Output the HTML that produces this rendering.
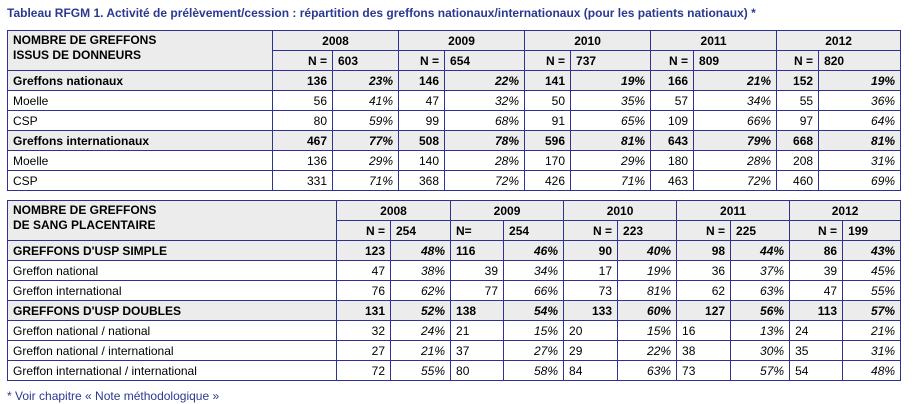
<!DOCTYPE html>
<html><head><meta charset="utf-8"><style>
body{margin:0;width:914px;height:404px;background:#fff;font-family:"Liberation Sans",Arial,sans-serif;font-size:12px;color:#000;position:relative;overflow:hidden}
.title{position:absolute;left:7px;top:6px;font-weight:bold;color:#2b3990;font-size:12px}
table{position:absolute;left:7px;border-collapse:collapse;table-layout:fixed;width:893px}
td{border:1px solid #2e3192;height:19px;padding:0 5px;line-height:18px;white-space:nowrap;overflow:hidden}
.g td{background:#ececec;font-weight:bold}
.h td{background:#ececec;font-weight:bold}
.c{text-align:center}.r{text-align:right}.l{text-align:left}
.p{text-align:right;font-style:italic}
.lbl{vertical-align:top;padding-top:2px;line-height:15px}
.foot{position:absolute;left:7px;top:389px;color:#2b3990;font-size:12px}
</style></head><body>
<div class="title">Tableau RFGM 1. Activité de prélèvement/cession : répartition des greffons nationaux/internationaux (pour les patients nationaux) *</div>

<table style="top:30px">
<colgroup><col style="width:265px"><col style="width:60px"><col style="width:66px"><col style="width:46px"><col style="width:80px"><col style="width:46px"><col style="width:80px"><col style="width:43px"><col style="width:83px"><col style="width:42px"><col style="width:82px"></colgroup>
<tr class="h"><td rowspan="2" class="lbl">NOMBRE DE GREFFONS<br>ISSUS DE DONNEURS</td><td colspan="2" class="c">2008</td><td colspan="2" class="c">2009</td><td colspan="2" class="c">2010</td><td colspan="2" class="c">2011</td><td colspan="2" class="c">2012</td></tr>
<tr class="h"><td class="r">N =</td><td>603</td><td class="r">N =</td><td>654</td><td class="r">N =</td><td>737</td><td class="r">N =</td><td>809</td><td class="r">N =</td><td>820</td></tr>
<tr class="g"><td>Greffons nationaux</td><td class="r">136</td><td class="p">23%</td><td class="r">146</td><td class="p">22%</td><td class="r">141</td><td class="p">19%</td><td class="r">166</td><td class="p">21%</td><td class="r">152</td><td class="p">19%</td></tr>
<tr><td>Moelle</td><td class="r">56</td><td class="p">41%</td><td class="r">47</td><td class="p">32%</td><td class="r">50</td><td class="p">35%</td><td class="r">57</td><td class="p">34%</td><td class="r">55</td><td class="p">36%</td></tr>
<tr><td>CSP</td><td class="r">80</td><td class="p">59%</td><td class="r">99</td><td class="p">68%</td><td class="r">91</td><td class="p">65%</td><td class="r">109</td><td class="p">66%</td><td class="r">97</td><td class="p">64%</td></tr>
<tr class="g"><td>Greffons internationaux</td><td class="r">467</td><td class="p">77%</td><td class="r">508</td><td class="p">78%</td><td class="r">596</td><td class="p">81%</td><td class="r">643</td><td class="p">79%</td><td class="r">668</td><td class="p">81%</td></tr>
<tr><td>Moelle</td><td class="r">136</td><td class="p">29%</td><td class="r">140</td><td class="p">28%</td><td class="r">170</td><td class="p">29%</td><td class="r">180</td><td class="p">28%</td><td class="r">208</td><td class="p">31%</td></tr>
<tr><td>CSP</td><td class="r">331</td><td class="p">71%</td><td class="r">368</td><td class="p">72%</td><td class="r">426</td><td class="p">71%</td><td class="r">463</td><td class="p">72%</td><td class="r">460</td><td class="p">69%</td></tr>
</table>

<table style="top:200px">
<colgroup><col style="width:329px"><col style="width:54px"><col style="width:60px"><col style="width:53px"><col style="width:60px"><col style="width:54px"><col style="width:59px"><col style="width:54px"><col style="width:59px"><col style="width:53px"><col style="width:58px"></colgroup>
<tr class="h"><td rowspan="2" class="lbl">NOMBRE DE GREFFONS<br>DE SANG PLACENTAIRE</td><td colspan="2" class="c">2008</td><td colspan="2" class="c">2009</td><td colspan="2" class="c">2010</td><td colspan="2" class="c">2011</td><td colspan="2" class="c">2012</td></tr>
<tr class="h"><td class="r">N =</td><td>254</td><td class="l">N=</td><td>254</td><td class="r">N =</td><td>223</td><td class="r">N =</td><td>225</td><td class="r">N =</td><td>199</td></tr>
<tr class="g"><td>GREFFONS D'USP SIMPLE</td><td class="r">123</td><td class="p">48%</td><td class="l">116</td><td class="p">46%</td><td class="r">90</td><td class="p">40%</td><td class="r">98</td><td class="p">44%</td><td class="r">86</td><td class="p">43%</td></tr>
<tr><td>Greffon national</td><td class="r">47</td><td class="p">38%</td><td class="r">39</td><td class="p">34%</td><td class="r">17</td><td class="p">19%</td><td class="r">36</td><td class="p">37%</td><td class="r">39</td><td class="p">45%</td></tr>
<tr><td>Greffon international</td><td class="r">76</td><td class="p">62%</td><td class="r">77</td><td class="p">66%</td><td class="r">73</td><td class="p">81%</td><td class="r">62</td><td class="p">63%</td><td class="r">47</td><td class="p">55%</td></tr>
<tr class="g"><td>GREFFONS D'USP DOUBLES</td><td class="r">131</td><td class="p">52%</td><td class="l">138</td><td class="p">54%</td><td class="r">133</td><td class="p">60%</td><td class="r">127</td><td class="p">56%</td><td class="r">113</td><td class="p">57%</td></tr>
<tr><td>Greffon national / national</td><td class="r">32</td><td class="p">24%</td><td class="l">21</td><td class="p">15%</td><td class="l">20</td><td class="p">15%</td><td class="l">16</td><td class="p">13%</td><td class="l">24</td><td class="p">21%</td></tr>
<tr><td>Greffon national / international</td><td class="r">27</td><td class="p">21%</td><td class="l">37</td><td class="p">27%</td><td class="l">29</td><td class="p">22%</td><td class="l">38</td><td class="p">30%</td><td class="l">35</td><td class="p">31%</td></tr>
<tr><td>Greffon international / international</td><td class="r">72</td><td class="p">55%</td><td class="l">80</td><td class="p">58%</td><td class="l">84</td><td class="p">63%</td><td class="l">73</td><td class="p">57%</td><td class="l">54</td><td class="p">48%</td></tr>
</table>

<div class="foot">* Voir chapitre « Note méthodologique »</div>
</body></html>
